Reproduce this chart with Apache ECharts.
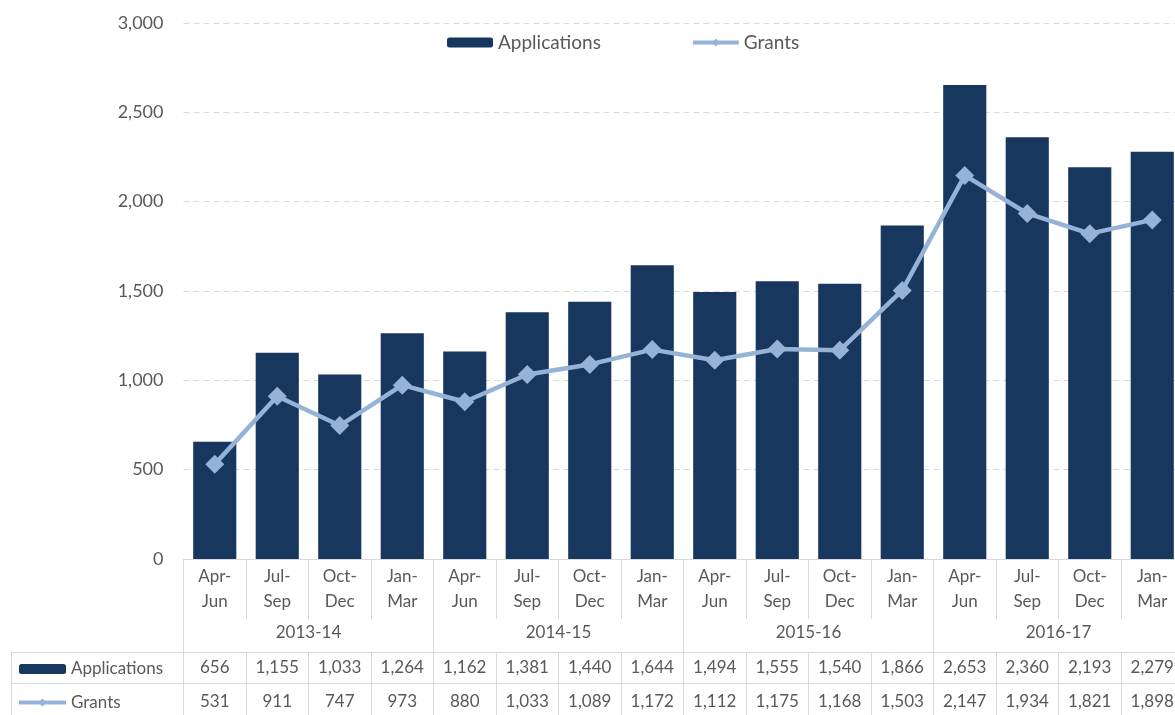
<!DOCTYPE html>
<html>
<head>
<meta charset="utf-8">
<script src="https://cdn.jsdelivr.net/npm/echarts@6/dist/echarts.min.js"></script>
<style>
html,body{margin:0;padding:0;background:#fff;overflow:hidden;}
#chart{width:1184px;height:715px;}
</style>
</head>
<body>
<div id="chart"></div>
<script>
const quarters = ['Apr-\nJun','Jul-\nSep','Oct-\nDec','Jan-\nMar','Apr-\nJun','Jul-\nSep','Oct-\nDec','Jan-\nMar','Apr-\nJun','Jul-\nSep','Oct-\nDec','Jan-\nMar','Apr-\nJun','Jul-\nSep','Oct-\nDec','Jan-\nMar'];
const years = ['2013-14','2014-15','2015-16','2016-17'];
const applications = [656,1155,1033,1264,1162,1381,1440,1644,1494,1555,1540,1866,2653,2360,2193,2279];
const grants = [531,911,747,973,880,1033,1089,1172,1112,1175,1168,1503,2147,1934,1821,1898];
const yTicks = [0,500,1000,1500,2000,2500,3000];

const FONT = 'Lato';
const TXT = '#595959';
const GRID = '#d9d9d9';
const BAR = '#17375e';
const LINE = '#95b3d7';
const fmt = v => Number(v).toLocaleString('en-US');

const chart = echarts.init(document.getElementById('chart'), null, {renderer:'canvas'});
chart.setOption({
  animation:false,
  textStyle:{fontFamily:FONT},
  legend:[{
    left:447, top:33, padding:0, itemGap:90, itemWidth:46, itemHeight:10,
    lineStyle:{width:4},
    textStyle:{color:TXT, fontSize:19, fontFamily:FONT},
    data:['Applications','Grants']
  },{
    left:17, top:659, padding:0, orient:'vertical', itemGap:13.5, itemWidth:47, itemHeight:10,
    lineStyle:{width:4},
    textStyle:{color:TXT, fontSize:17, fontFamily:FONT, lineHeight:20},
    data:['Applications','Grants']
  }],
  grid:[
    {left:183.5, right:0.5, top:23, bottom:156, containLabel:false},
    {left:11, right:0.5, top:652, height:67, containLabel:false}
  ],
  xAxis:[
    {gridIndex:0, type:'category', data:quarters, position:'bottom',
     axisLine:{show:true, lineStyle:{color:GRID, width:1}},
     axisTick:{show:true, interval:0, length:60, lineStyle:{color:GRID}},
     axisLabel:{interval:0, color:TXT, fontSize:17, lineHeight:25, margin:5, fontFamily:FONT}},
    {gridIndex:0, type:'category', data:years, position:'bottom',
     axisLine:{show:false},
     axisTick:{show:true, interval:0, length:160, lineStyle:{color:GRID}},
     axisLabel:{interval:0, color:TXT, fontSize:17, margin:65, fontFamily:FONT}},
    {gridIndex:0, type:'category', data:quarters, position:'bottom', offset:93,
     axisLine:{show:false},
     axisTick:{show:true, interval:0, length:70, lineStyle:{color:GRID}},
     axisLabel:{interval:0, color:TXT, fontSize:17, margin:7, fontFamily:FONT,
       formatter:(v,i)=>fmt(applications[i])}},
    {gridIndex:0, type:'category', data:quarters, position:'bottom',
     axisLine:{show:false}, axisTick:{show:false},
     axisLabel:{interval:0, color:TXT, fontSize:17, margin:134, fontFamily:FONT,
       formatter:(v,i)=>fmt(grants[i])}},
    {gridIndex:1, type:'value', show:false}
  ],
  yAxis:[
    {gridIndex:0, type:'value', min:yTicks[0], max:yTicks[yTicks.length-1], interval:500,
     axisLine:{show:false}, axisTick:{show:false},
     axisLabel:{color:TXT, fontSize:18, margin:20, fontFamily:FONT, formatter:v=>fmt(v)},
     splitLine:{show:true, lineStyle:{color:GRID, type:[6,4], width:1}}},
    {gridIndex:1, type:'category', data:['Applications','Grants'],
     axisLine:{show:true, lineStyle:{color:GRID}}, axisTick:{show:false},
     axisLabel:{show:false},
     splitLine:{show:true, lineStyle:{color:GRID}}}
  ],
  series:[
    {name:'Applications', type:'bar', xAxisIndex:0, yAxisIndex:0, data:applications,
     barCategoryGap:'31%', itemStyle:{color:BAR}},
    {name:'Grants', type:'line', xAxisIndex:0, yAxisIndex:0, data:grants,
     symbol:'diamond', symbolSize:19, lineStyle:{color:LINE, width:4.5},
     itemStyle:{color:LINE}}
  ]
});
</script>
</body>
</html>
